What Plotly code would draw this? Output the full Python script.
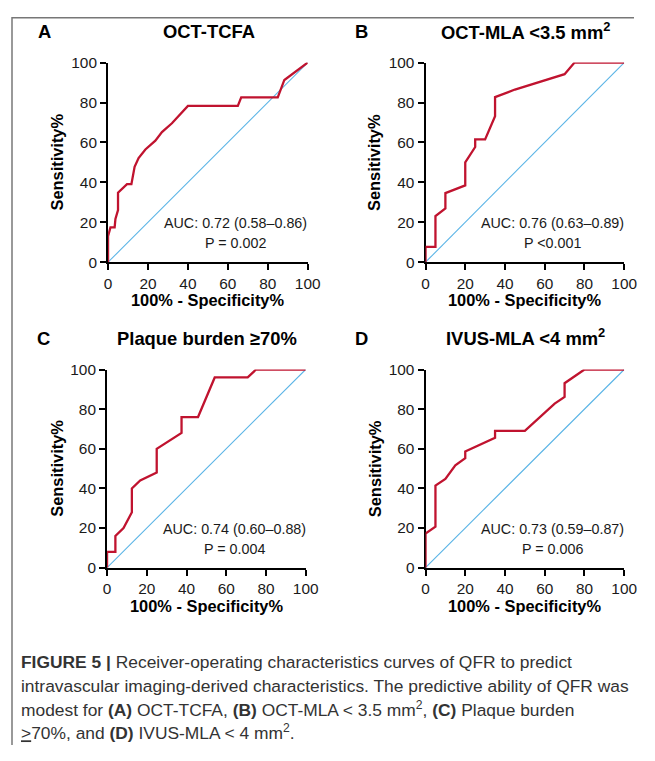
import plotly.graph_objects as go

PAGE_W, PAGE_H = 655, 761
OFF = 8
W, H = PAGE_W - 2 * OFF, PAGE_H - 2 * OFF

# measured mapping from page pixels to the photographed picture
AX, BX = 0.975, 2.0
AY, BY = 0.979, 8.5
FS = 1 / 0.977

# ---------------- data ----------------
panel_letters = ["A", "B", "C", "D"]
panel_titles = ["OCT-TCFA", "OCT-MLA &lt;3.5 mm<sup>2</sup>", "Plaque burden ≥70%", "IVUS-MLA &lt;4 mm<sup>2</sup>"]
auc_labels = ["AUC: 0.72 (0.58–0.86)", "AUC: 0.76 (0.63–0.89)", "AUC: 0.74 (0.60–0.88)", "AUC: 0.73 (0.59–0.87)"]
p_labels = ["P = 0.002", "P &lt;0.001", "P = 0.004", "P = 0.006"]

a_x = [0, 0, 1.2, 3.3, 3.7, 5, 5, 9.5, 11.7, 13.3, 15.3, 18.7, 23.7, 27, 32, 36, 40, 65, 66.7, 85, 88.3, 100]
a_y = [0, 13, 17.4, 17.4, 21.7, 26.1, 34.8, 39.1, 39.1, 47.8, 52.2, 56.5, 60.9, 65.2, 69.6, 73.9, 78.3, 78.3, 82.6, 82.6, 91.3, 100]

b_x = [0, 0, 5, 5, 10, 10, 20, 20, 25, 25, 30, 35, 35, 45, 70, 75, 100]
b_y = [0, 7.7, 7.7, 23.1, 26.9, 34.6, 38.5, 50, 57.7, 61.5, 61.5, 73.1, 82.7, 86.5, 94.2, 100, 100]

c_x = [0, 0, 4.2, 4.2, 8.3, 12.5, 12.5, 16.7, 25, 25, 37.5, 37.5, 45.8, 54.2, 70.8, 75, 100]
c_y = [0, 8, 8, 16, 20, 28, 40, 44, 48, 60, 68, 76, 76, 96, 96, 100, 100]

d_x = [0, 0, 5, 5, 10, 15, 20, 20, 35, 35, 50, 65, 70, 70, 80, 100]
d_y = [0, 17.2, 20.7, 41.4, 44.8, 51.7, 55.2, 58.6, 65.5, 69, 69, 82.8, 86.2, 93.1, 100, 100]

ref_line = [0, 100]
tick_vals = [0, 20, 40, 60, 80, 100]
x_title = "100% - Specificity%"
y_title = "Sensitivity%"

caption_lines = [
    "<b>FIGURE 5 |</b> Receiver-operating characteristics curves of QFR to predict",
    "intravascular imaging-derived characteristics. The predictive ability of QFR was",
    "modest for <b>(A)</b> OCT-TCFA, <b>(B)</b> OCT-MLA &lt; 3.5 mm<sup>2</sup>, <b>(C)</b> Plaque burden",
    "<u>&gt;</u>70%, and <b>(D)</b> IVUS-MLA &lt; 4 mm<sup>2</sup>.",
]

curves = [(a_x, a_y), (b_x, b_y), (c_x, c_y), (d_x, d_y)]

boxes = [  # x0, x1, ytop, ybottom  (target picture pixels)
    (106, 306, 62, 262),
    (424, 623, 62, 262),
    (105, 304, 369.5, 568),
    (424, 623, 369.5, 568),
]

RED = "#c0132f"
BLUE = "rgb(90,180,230)"
FONT = "Liberation Sans, Arial, sans-serif"

fig = go.Figure()
annotations = []
layout = {}

def px_x(t):
    p = (t - BX) / AX
    return min(max((p - OFF) / W, 0), 1)

def px_y(t):
    p = (t - BY) / AY
    return min(max(1 - (p - OFF) / H, 0), 1)

def fs(s):
    return round(s * FS, 1)

for i, (box, (cx, cy)) in enumerate(zip(boxes, curves)):
    n = "" if i == 0 else str(i + 1)
    xa, ya = "x" + n, "y" + n
    x0, x1, yt, yb = box
    fig.add_trace(go.Scatter(x=ref_line, y=ref_line, mode="lines", opacity=1,
                             line=dict(color=BLUE, width=1.1), xaxis=xa, yaxis=ya,
                             hoverinfo="skip", showlegend=False))
    fig.add_trace(go.Scatter(x=cx, y=cy, mode="lines",
                             line=dict(color=RED, width=2.3), xaxis=xa, yaxis=ya,
                             cliponaxis=False, showlegend=False))
    common = dict(range=[0, 100], tickvals=tick_vals, ticks="outside", ticklen=6,
                  tickwidth=2, tickcolor="black", showline=True, linewidth=2,
                  linecolor="black", showgrid=False, zeroline=False,
                  tickfont=dict(family=FONT, size=fs(15), color="#1a1a1a"),
                  layer="below traces", fixedrange=True)
    layout["xaxis" + n] = dict(common, domain=[px_x(x0), px_x(x1)], anchor=ya)
    layout["yaxis" + n] = dict(common, domain=[px_y(yb), px_y(yt)], anchor=xa)

    ty = 31 if i < 2 else 338
    annotations.append(dict(text="<b>%s</b>" % panel_letters[i], x=px_x(x0 - 64), y=px_y(ty),
                            xref="paper", yref="paper", showarrow=False,
                            xanchor="center", yanchor="middle",
                            font=dict(family=FONT, size=fs(18), color="black")))
    annotations.append(dict(text="<b>%s</b>" % panel_titles[i], x=px_x((x0 + x1) / 2 + 1),
                            y=px_y(ty + (0 if "sup" not in panel_titles[i] else -1)),
                            xref="paper", yref="paper", showarrow=False,
                            xanchor="center", yanchor="middle",
                            font=dict(family=FONT, size=fs(18), color="black")))
    annotations.append(dict(text="<b>%s</b>" % x_title, x=px_x((x0 + x1) / 2), y=px_y(yb + 38),
                            xref="paper", yref="paper", showarrow=False,
                            xanchor="center", yanchor="middle",
                            font=dict(family=FONT, size=fs(16), color="black")))
    annotations.append(dict(text="<b>%s</b>" % y_title, x=px_x(x0 - 51), y=px_y((yt + yb) / 2),
                            xref="paper", yref="paper", showarrow=False, textangle=-90,
                            xanchor="center", yanchor="middle",
                            font=dict(family=FONT, size=fs(16), color="black")))
    annotations.append(dict(text=auc_labels[i], x=64, y=19.5, xref=xa, yref=ya,
                            showarrow=False, xanchor="center", yanchor="middle",
                            font=dict(family=FONT, size=fs(14), color="#1a1a1a")))
    annotations.append(dict(text=p_labels[i], x=64, y=9.6, xref=xa, yref=ya,
                            showarrow=False, xanchor="center", yanchor="middle",
                            font=dict(family=FONT, size=fs(14), color="#1a1a1a")))

cap_y = [663, 687, 710, 733]
for line, yy in zip(caption_lines, cap_y):
    annotations.append(dict(text=line, x=px_x(17), y=px_y(yy), xref="paper", yref="paper",
                            showarrow=False, xanchor="left", yanchor="middle",
                            font=dict(family=FONT, size=fs(17), color="#333333")))

shapes = [
    dict(type="line", xref="paper", yref="paper", x0=px_x(9), x1=1, y0=1 - 0.7 / H, y1=1 - 0.7 / H,
         line=dict(color="#777777", width=1.5)),
    dict(type="line", xref="paper", yref="paper", x0=px_x(9), x1=px_x(9), y0=1, y1=0,
         line=dict(color="#777777", width=1.5)),
]

fig.update_layout(width=W, height=H, margin=dict(l=0, r=0, t=0, b=0),
                  paper_bgcolor="white", plot_bgcolor="white",
                  annotations=annotations, shapes=shapes, showlegend=False, **layout)

fig.write_html("out.html", config={"displayModeBar": False})
